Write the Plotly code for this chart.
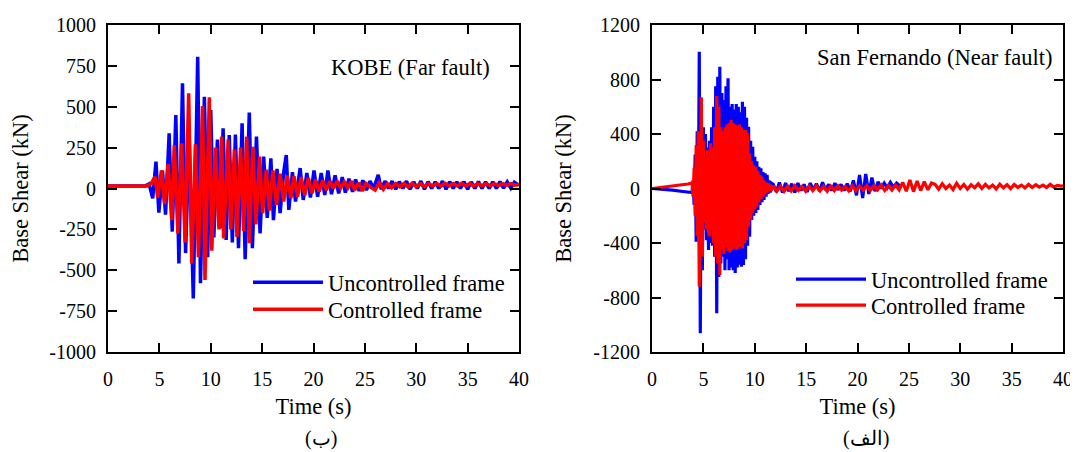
import numpy as np
import plotly.graph_objects as go

# ---------------- Data ----------------
# KOBE (far fault) - peak sequence, time (s) and base shear (kN)
kobe_unc_t = [0, 3.6, 4.0, 4.35, 4.67, 4.95, 5.3, 5.6, 5.95, 6.25, 6.6, 6.9, 7.25, 7.55, 7.9, 8.3,
              8.73, 9.0, 9.38, 9.7, 10.0, 10.3, 10.65, 10.95, 11.2, 11.5, 11.8, 12.1, 12.4, 12.7,
              13.05, 13.35, 13.75, 14.05, 14.45, 14.8, 15.15, 15.5, 15.85, 16.1, 16.45, 16.75,
              17.1, 17.35, 17.6, 17.95, 18.25, 18.7, 19.0, 19.35, 19.7, 20.05, 20.4, 20.75, 21.1,
              21.4, 21.75, 22.1, 22.45, 22.8, 23.1, 23.45, 23.8, 24.1, 24.45, 24.8, 25.15, 25.5,
              25.85, 26.3, 26.6, 26.95, 27.3, 27.65, 28.0, 28.35, 28.7, 29.05, 29.4, 29.75, 30.1,
              30.45, 30.8, 31.15, 31.5, 31.85, 32.2, 32.55, 32.9, 33.25, 33.6, 33.95, 34.3, 34.65,
              35.0, 35.35, 35.7, 36.05, 36.4, 36.75, 37.1, 37.45, 37.8, 38.15, 38.5, 38.85, 39.2,
              39.55, 40.0]
kobe_unc_v = [15, 15, 28, -60, 164, -148, 110, -160, 337, -264, 450, -458, 643, -395, 320, -672,
              806, -580, 561, -420, 480, -300, 300, -244, 368, -315, 327, -330, 330, -365,
              399, -433, 464, -365, 317, -274, 195, -180, 185, -193, 120, -150,
              100, 205, -131, 100, -80, 125, -70, 95, -55, 110, -50, 95, -40,
              110, -35, 80, -30, 70, -25, 60, -20, 55, -15, 50, -10, 45,
              0, 83, -5, 45, 0, 45, -5, 42, 0, 45, -5, 40, 0,
              45, -5, 42, 0, 40, 0, 45, -5, 42, 0, 40, 0, 42,
              -5, 40, 0, 42, 0, 40, 0, 40, 0, 42, 2, 40, 2,
              38, 20]

kobe_con_t = [0, 3.8, 4.2, 4.57, 4.85, 5.2, 5.5, 5.85, 6.2, 6.45, 6.8, 7.17, 7.5, 7.85, 8.15, 8.5,
              8.8, 9.2, 9.44, 9.86, 10.1, 10.45, 10.8, 11.06, 11.25, 11.7, 11.95, 12.3, 12.55,
              12.9, 13.2, 13.5, 13.75, 14.1, 14.4, 14.75, 15.05, 15.4, 15.7, 16.05, 16.4, 16.75,
              17.1, 17.45, 17.8, 18.1, 18.45, 18.8, 19.15, 19.5, 19.85, 20.2, 20.55, 20.9, 21.25,
              21.6, 21.95, 22.3, 22.65, 23.0, 23.35, 23.7, 24.0, 24.4, 24.75, 25.1, 25.5, 26.0,
              26.4, 26.8, 27.2, 27.6, 28.0, 28.4, 28.8, 29.2, 29.6, 30.0, 30.4, 30.8, 31.2, 31.6,
              32.0, 32.4, 32.8, 33.2, 33.6, 34.0, 34.4, 34.8, 35.2, 35.6, 36.0, 36.4, 36.8, 37.2,
              37.6, 38.0, 38.4, 38.8, 39.2, 39.6, 40.0]
kobe_con_v = [15, 15, 30, 72, -57, 110, -95, 150, -193, 266, -275, 276, -330, 582, -458, 270,
              -420, 505, -560, 558, -380, 250, -250, 317, -305, 300, -250, 240, -296,
              250, -260, 317, -335, 255, -220, 195, -150, 115, -135, 110, -100, 90,
              -80, 80, -60, 75, -50, 70, -40, 65, -30, 55, -20, 50, -10,
              45, 0, 45, 5, 40, 5, 45, -10, 35, -15, 30, 10, -10,
              35, -5, 30, 5, 30, 10, 30, 10, 32, 12, 30, 12, 30, 15,
              30, 15, 32, 15, 30, 15, 32, 16, 30, 16, 30, 18, 30, 18,
              30, 18, 30, 20, 30, 20, 25]

# San Fernando (near fault)
sf_pre_t = [0, 1.0, 2.0, 3.0, 3.5]
sf_unc_pre_v = [0, -5, -12, -22, -28]
sf_con_pre_v = [0, 8, 17, 28, 33]

sf_dense_t = [round(3.9 + 0.1 * i, 2) for i in range(78)]  # 3.9 ... 11.6 s
sf_unc_dense_v = [-30, 60, -120, 250, -390, 420, -250, 1004, -1063, 500,
                  -600, 450, -300, 400, -380, 300, -451, 350, -400, 450,
                  -420, 600, -500, 750, -916, 820, -650, 894, -550, 700,
                  -500, 650, -600, 750, -520, 809, -600, 600, -580, 620,
                  -600, 580, -620, 620, -580, 600, -560, 560, -574, 637,
                  -561, 600, -520, 520, -420, 454, -354, 350, -231, 307,
                  -200, 233, -180, 200, -158, 160, -120, 148, -100, 120,
                  -84, 111, -60, 100, -40, 60, -30, 40]
sf_con_dense_v = [40, -60, 150, -200, 320, -350, 420, -720, -300, 669,
                  -500, 350, -250, 250, -300, 280, -320, -350, 332, -300,
                  300, -400, 450, -500, 679, -550, 600, -635, 450, -450,
                  420, -480, 450, -430, 470, -460, 480, -470, 503, -450,
                  480, -440, 470, -450, 460, -440, 470, -430, 450, -440,
                  430, -402, 430, -380, 405, -280, 258, -230, 200, -180,
                  170, -150, 160, -134, 130, -100, 100, -80, 88, -60,
                  60, -40, 45, -30, 40, -20, 30, -15]

sf_unc_tail_t = [round(11.8 + 0.3 * i, 2) for i in range(42)]  # 11.8 ... 24.1 s
sf_unc_tail_v = [30, -25, 45, -30, 40, -20, 35, -30, 40, -15,
                 30, -25, 40, -10, 35, -20, 45, -10, 30, -15,
                 40, -10, 30, -15, 35, -20, 60, -50, 100, -70,
                 106, -40, 80, -20, 50, 0, 40, 5, 45, 10,
                 40, 20]

sf_con_tail_t = [round(11.8 + 0.35 * i, 2) for i in range(81)] + [40.0]
sf_con_tail_v = [20, -20, 15, -22, 18, -18, 20, -15, 15, -20,
                 18, -15, 20, -18, 15, -20, 18, -15, 20, -12,
                 15, -18, 20, -15, 18, -12, 22, -15, 20, -10,
                 25, -15, 22, -12, 25, -10,
                 45, -20, 62, -23, 55, -15, 50, -10, 40,
                 30, -5, 35, 0, 25, -8, 38, 0, 30, -5,
                 28, 5, 35, 0, 30, 5, 25, -3, 32, 5,
                 28, 0, 30, 8, 25, 5, 30, 8, 28, 10,
                 25, 8, 30, 10, 22, 18, 20]

x_ticks = [0, 5, 10, 15, 20, 25, 30, 35, 40]
kobe_y_ticks = [-1000, -750, -500, -250, 0, 250, 500, 750, 1000]
kobe_y_labels = ["-1000", "-750", "-500", "-250", "0", "250", "500", "750", "1000"]
sf_y_ticks = [-1200, -800, -400, 0, 400, 800, 1200]
sf_y_labels = ["-1200", "-800", "-400", "0", "400", "800", "1200"]

# ---------------- Figure ----------------
FONT = "Liberation Serif, Times New Roman, serif"
BLUE = "#0000FF"
RED = "#FF0000"

sf_unc_t = sf_pre_t + sf_dense_t + sf_unc_tail_t
sf_unc_v = sf_unc_pre_v + sf_unc_dense_v + sf_unc_tail_v
sf_con_t = sf_pre_t + sf_dense_t + sf_con_tail_t
sf_con_v = sf_con_pre_v + sf_con_dense_v + sf_con_tail_v

fig = go.Figure()
fig.add_trace(go.Scatter(x=kobe_unc_t, y=kobe_unc_v, mode="lines", name="Uncontrolled frame",
                         line=dict(color=BLUE, width=3.5), xaxis="x", yaxis="y", legend="legend"))
fig.add_trace(go.Scatter(x=kobe_con_t, y=kobe_con_v, mode="lines", name="Controlled frame",
                         line=dict(color=RED, width=3.5), xaxis="x", yaxis="y", legend="legend3"))
fig.add_trace(go.Scatter(x=sf_unc_t, y=sf_unc_v, mode="lines", name="Uncontrolled frame",
                         line=dict(color=BLUE, width=3.2), xaxis="x2", yaxis="y2", legend="legend2"))
fig.add_trace(go.Scatter(x=sf_con_t, y=sf_con_v, mode="lines", name="Controlled frame",
                         line=dict(color=RED, width=3.2), xaxis="x2", yaxis="y2", legend="legend4"))

# the page has an 8px body margin, so the figure is 8px smaller and all positions shift by 8
W, H = 1070, 444
ydom = [1 - 344 / H, 1 - 17 / H]

axis_common = dict(showline=True, linecolor="black", linewidth=2, mirror="ticks",
                   ticks="inside", ticklen=9, tickwidth=1.5, tickcolor="black",
                   showgrid=False, zeroline=False, automargin=False,
                   tickfont=dict(family=FONT, size=20, color="black"))
TF = dict(family=FONT, size=22.5, color="black")


def leg(xpx, ypx):
    return dict(x=xpx / W, y=1 - ypx / H, xanchor="left", yanchor="top",
                bgcolor="rgba(0,0,0,0)", font=TF, itemwidth=70, tracegroupgap=0)


fig.update_layout(
    width=W, height=H,
    margin=dict(l=0, r=0, t=0, b=0),
    paper_bgcolor="white", plot_bgcolor="white",
    font=dict(family=FONT, size=20, color="black"),
    xaxis=dict(domain=[100 / W, 511 / W], range=[0, 40], tickvals=x_ticks, anchor="y",
               ticklabelstandoff=8,
               title=dict(text="Time (s)", font=TF, standoff=9),
               **axis_common),
    yaxis=dict(domain=ydom, range=[-1000, 1000], tickvals=kobe_y_ticks, ticktext=kobe_y_labels,
               anchor="x", ticklabelstandoff=6,
               title=dict(text="Base Shear (kN)", font=TF, standoff=15),
               **axis_common),
    xaxis2=dict(domain=[644 / W, 1055 / W], range=[0, 40], tickvals=x_ticks, anchor="y2",
                ticklabelstandoff=8,
                title=dict(text="Time (s)", font=TF, standoff=9),
                **axis_common),
    yaxis2=dict(domain=ydom, range=[-1200, 1200], tickvals=sf_y_ticks, ticktext=sf_y_labels,
                anchor="x2", ticklabelstandoff=6,
                title=dict(text="Base Shear (kN)", font=TF, standoff=15),
                **axis_common),
    legend=leg(240, 253),
    legend3=leg(240, 280),
    legend2=leg(783, 250),
    legend4=leg(783, 276),
    showlegend=True,
)

fig.add_annotation(text="KOBE (Far fault)", xref="paper", yref="paper",
                   x=484 / W, y=1 - 60 / H, xanchor="right", yanchor="middle",
                   showarrow=False, font=TF)
fig.add_annotation(text="San Fernando (Near fault)", xref="paper", yref="paper",
                   x=1047 / W, y=1 - 50 / H, xanchor="right", yanchor="middle",
                   showarrow=False, font=TF)
fig.add_annotation(text="(ب)", xref="paper", yref="paper",
                   x=313 / W, y=1 - 430 / H, xanchor="center", yanchor="middle",
                   showarrow=False, font=dict(family=FONT, size=20, color="black"))
fig.add_annotation(text="(الف)", xref="paper", yref="paper",
                   x=858 / W, y=1 - 430 / H, xanchor="center", yanchor="middle",
                   showarrow=False, font=dict(family=FONT, size=20, color="black"))

fig.write_html("out.html")
